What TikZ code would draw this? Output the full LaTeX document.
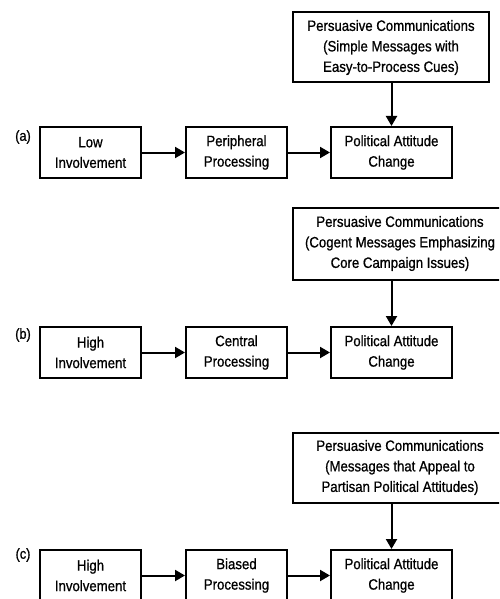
\documentclass[tikz,border=0pt]{standalone}
\usepackage{fontspec}
\setmainfont[FakeStretch=0.88,FakeBold=0.8]{Liberation Sans}
\usetikzlibrary{arrows.meta}
\begin{document}
\begin{tikzpicture}[x=1pt,y=-1pt,
  box/.style={draw, line width=2pt, inner sep=0pt, align=center,
    font=\fontsize{15}{20.5}\selectfont},
  lowbox/.style={box, minimum height=51pt},
  msgbox/.style={box, minimum height=70pt, minimum width=196pt},
  widebox/.style={box, minimum height=72pt, minimum width=214pt},
  lbl/.style={font=\fontsize{14.5}{16}\selectfont, inner sep=0pt},
  arr/.style={line width=2pt, -{Triangle[length=10pt,width=11pt]}}]
\useasboundingbox (0,0) rectangle (499,599);
\clip (0,0) rectangle (499,599);
\fill[white] (0,0) rectangle (499,599);

% ---------- (a)
\node[lbl] (la) at (23,137) {(a)};
\node[msgbox] (pa) at (391,47.5) {Persuasive Communications\\(Simple Messages with\\Easy-to-Process Cues)};
\node[lowbox, minimum width=101pt] (ia) at (90.5,152.5) {Low\\Involvement};
\node[lowbox, minimum width=101pt] (ca) at (236.5,152.5) {Peripheral\\Processing};
\node[lowbox, minimum width=121pt] (ra) at (391.5,152.5) {Political Attitude\\Change};
\draw[arr] (ia) -- (ca);
\draw[arr] (ca) -- (ra);
\draw[arr] (pa.south -| ra.north) -- (ra.north);

% ---------- (b)
\node[lbl] (lb) at (23,335) {(b)};
\node[widebox] (pb) at (400,243.5) {Persuasive Communications\\(Cogent Messages Emphasizing\\Core Campaign Issues)};
\node[lowbox, minimum width=101pt] (ib) at (90.5,352.5) {High\\Involvement};
\node[lowbox, minimum width=101pt] (cb) at (236.5,352.5) {Central\\Processing};
\node[lowbox, minimum width=121pt] (rb) at (391.5,352.5) {Political Attitude\\Change};
\draw[arr] (ib) -- (cb);
\draw[arr] (cb) -- (rb);
\draw[arr] (pb.south -| rb.north) -- (rb.north);

% ---------- (c)
\node[lbl] (lc) at (23,555) {(c)};
\node[widebox, minimum height=70pt] (pc) at (400,467.5) {Persuasive Communications\\(Messages that Appeal to\\Partisan Political Attitudes)};
\node[lowbox, minimum width=101pt] (ic) at (90.5,575.5) {High\\Involvement};
\node[lowbox, minimum width=101pt] (cc) at (236.5,575.5) {Biased\\Processing};
\node[lowbox, minimum width=121pt] (rc) at (391.5,575.5) {Political Attitude\\Change};
\draw[arr] (ic) -- (cc);
\draw[arr] (cc) -- (rc);
\draw[arr] (pc.south -| rc.north) -- (rc.north);
\end{tikzpicture}
\end{document}
